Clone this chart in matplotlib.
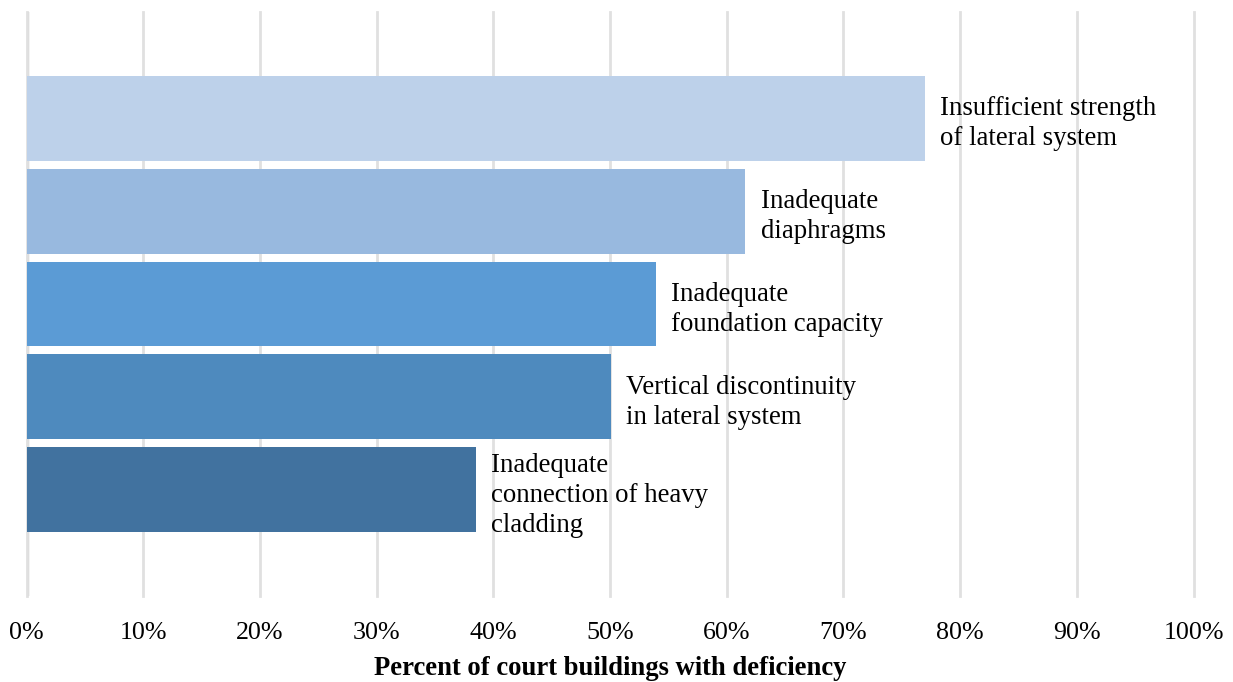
import matplotlib.pyplot as plt

plt.rcParams["font.family"] = ["Liberation Serif", "DejaVu Serif"]

labels = [
    "Insufficient strength\nof lateral system",
    "Inadequate\ndiaphragms",
    "Inadequate\nfoundation capacity",
    "Vertical discontinuity\nin lateral system",
    "Inadequate\nconnection of heavy\ncladding",
]
percents = [77.0, 61.6, 53.9, 50.1, 38.5]
colors = ["#BDD1EA", "#98B9DF", "#5B9BD5", "#4E8ABE", "#41729F"]
xticks = list(range(0, 101, 10))

fig = plt.figure(figsize=(12.33, 6.82), dpi=100)
ax = fig.add_axes([26.5 / 1233, 86 / 682, 1167 / 1233, 584 / 682])

ypos = list(range(len(percents)))
ax.barh(ypos, percents, height=0.914, color=colors, zorder=2)

# category names sit just right of each bar end
for y, v, lab in zip(ypos, percents, labels):
    ax.annotate(lab, xy=(v, y), xytext=(11, -4), textcoords="offset points",
                va="center", ha="left", fontsize=19.3, linespacing=1.28,
                color="black")

ax.set_xlim(0, 100)
ax.set_ylim(len(percents) - 1 + 1.14, -1.14)
ax.set_yticks([])
ax.set_xticks(xticks)
ax.set_xticklabels([f"{t}%" for t in xticks], fontsize=18.7)
ax.tick_params(axis="x", length=0, pad=18.5)
ax.grid(axis="x", color="#E0E0E0", linewidth=2, zorder=0)
for gl in ax.get_xgridlines():
    gl.set_clip_on(False)
ax.axvline(0, color="#D0D0D0", linewidth=2.5, zorder=1)
for s in ax.spines.values():
    s.set_visible(False)

ax.set_xlabel("Percent of court buildings with deficiency", fontsize=19.2,
              fontweight="bold", labelpad=9)

fig.savefig("out.png", dpi=100)
